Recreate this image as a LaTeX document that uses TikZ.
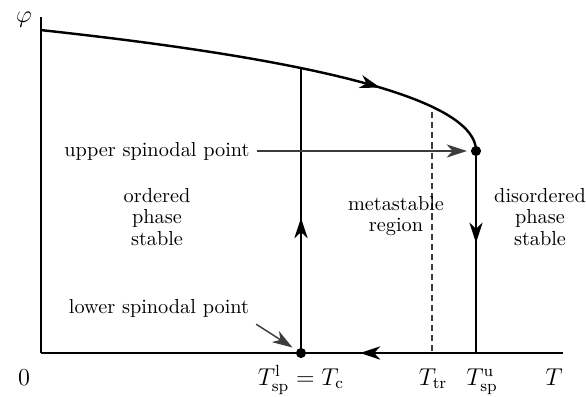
\documentclass[tikz,border=0pt]{standalone}
\usetikzlibrary{arrows.meta,decorations.markings}
\definecolor{phGrey}{HTML}{3c3c3c}
\tikzset{
  >={Stealth[length=10pt,width=6.5pt,inset=3pt]},
  curve/.style={line width=1.2pt},
  midarrow/.style={postaction={decorate,decoration={markings,
      mark=at position #1 with {\arrow{Stealth[length=10pt,width=6.5pt,inset=3pt]}}}}},
  pointer/.style={->,draw=phGrey,line width=0.7pt},
  trline/.style={draw=phGrey,line width=0.5pt,dash pattern=on 3pt off 2pt},
  region/.style={align=center,font=\fontsize{10}{10.6}\selectfont},
  dot/.style={circle,fill,inner sep=0pt,minimum size=5pt},
  tick/.style={anchor=base,font=\large,inner sep=1pt},
}
\begin{document}
\begin{tikzpicture}[x=0.4928pt,y=-0.4928pt]
  \useasboundingbox (0,0) rectangle (586,396);
  % points of the diagram
  \coordinate (O) at (41,353);
  \coordinate (ytop) at (41,17);
  \coordinate (xend) at (563,353);
  \coordinate (B) at (301,68);
  \coordinate (L) at (301,353);
  \coordinate (U) at (476,151);
  \coordinate (Ub) at (476,353);
  \coordinate (Ttr) at (432,112);
  \coordinate (Ttrb) at (432,353);
  % axes
  \draw[curve] (ytop) -- (O);
  \draw[curve,midarrow=0.389] (xend) -- (O);
  % order parameter and cycle
  \draw[curve,midarrow=0.74] plot[domain=20.857:0,samples=90]
        ({476-\x*\x},{151-7.09*\x+0.062*\x*\x});
  \draw[curve,midarrow=0.474] (L) -- (B);
  \draw[curve,midarrow=0.455] (U) -- (Ub);
  \draw[trline] (Ttr) -- (Ttrb);
  \node[dot] (Ldot) at (L) {};
  \node[dot] (Udot) at (U) {};
  % labels
  \node[font=\large] (phi) at (24,20) {$\varphi$};
  \node[tick] (zero) at (24,385) {$0$};
  \node[tick] (tc) at (301,385) {$T^{\mathrm{l}}_{\mathrm{sp}}=T_{\mathrm{c}}$};
  \node[tick] (ttr) at (433,385) {$T_{\mathrm{tr}}$};
  \node[tick] (tsu) at (482,385) {$T^{\mathrm{u}}_{\mathrm{sp}}$};
  \node[tick] (tt) at (554,385) {$T$};
  \node[region] (ord) at (157,217) {ordered\\phase\\stable};
  \node[region] (meta) at (396,216) {metastable\\region};
  \node[region] (dis) at (540,217) {disordered\\phase\\stable};
  % spinodal pointers
  \node (upl) at (157,151) {upper spinodal point};
  \node (lowl) at (159,308) {lower spinodal point};
  \draw[pointer,shorten >=4.5pt] (upl.east) -- (U);
  \draw[pointer,shorten >=5pt] (lowl.south east) -- (L);
\end{tikzpicture}
\end{document}
